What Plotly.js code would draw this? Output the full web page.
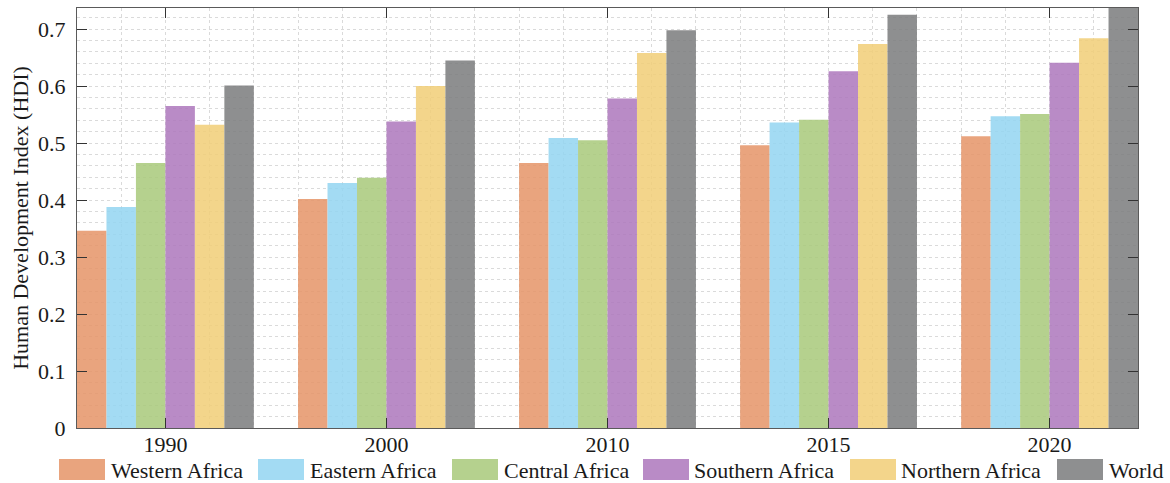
<!DOCTYPE html>
<html>
<head>
<meta charset="utf-8">
<script src="https://cdn.plot.ly/plotly-3.0.1.min.js"></script>
<style>
  html, body { margin: 0; padding: 0; background: #fff; }
  #chart { width: 1170px; height: 483px; }
</style>
</head>
<body>
<div id="chart"></div>
<script>
// Human Development Index by African region, compared with the world average
const years = ['1990', '2000', '2010', '2015', '2020'];
const groupPos = [1, 2, 3, 4, 5];
const regions = ['Western Africa', 'Eastern Africa', 'Central Africa',
                 'Southern Africa', 'Northern Africa', 'World'];

const westernAfrica  = [0.346, 0.402, 0.465, 0.496, 0.512];
const easternAfrica  = [0.388, 0.430, 0.509, 0.536, 0.547];
const centralAfrica  = [0.465, 0.439, 0.505, 0.541, 0.551];
const southernAfrica = [0.565, 0.538, 0.578, 0.626, 0.641];
const northernAfrica = [0.532, 0.600, 0.658, 0.674, 0.684];
const world          = [0.601, 0.645, 0.698, 0.725, 0.737];

const series = [westernAfrica, easternAfrica, centralAfrica,
                southernAfrica, northernAfrica, world];

const palette = ['rgb(229,148,103)', 'rgb(147,213,241)', 'rgb(168,201,122)',
                 'rgb(173,119,188)', 'rgb(241,206,119)', 'rgb(122,123,124)'];
const barOpacity = 0.85;

const FONT = 'Liberation Serif, Times New Roman, serif';
const TEXT_COLOR = '#1a1a1a';
const GRID_COLOR = '#dadada';
const LINE_COLOR = '#5a5a5a';

const traces = regions.map((name, i) => ({
  type: 'bar',
  name: name,
  x: groupPos,
  y: series[i],
  marker: { color: palette[i], opacity: barOpacity, line: { width: 0 } },
  hovertemplate: name + ' %{text}: %{y:.3f}<extra></extra>',
  text: years,
  textposition: 'none'
}));

// Plot area geometry (pixels) used to place the custom legend row
const M = { l: 77, r: 32, t: 8, b: 55 };
const W = 1170 - M.l - M.r;
const H = 483 - M.t - M.b;
const px2x = px => (px - M.l) / W;
const py2y = py => (483 - M.b - py) / H;

// Legend row: wide colour swatch followed by the region name
const legendSlots = [
  { swatch: 59,  label: 109 },
  { swatch: 258, label: 308 },
  { swatch: 452, label: 502 },
  { swatch: 643, label: 692 },
  { swatch: 850, label: 899 },
  { swatch: 1057, label: 1107 }
];
const swatchW = 46, swatchTop = 459, swatchBottom = 480, legendMid = 470;

const shapes = regions.map((name, i) => ({
  type: 'rect', xref: 'paper', yref: 'paper', layer: 'above',
  x0: px2x(legendSlots[i].swatch), x1: px2x(legendSlots[i].swatch + swatchW),
  y0: py2y(swatchBottom), y1: py2y(swatchTop),
  fillcolor: palette[i], opacity: barOpacity, line: { width: 0 }
}));

const annotations = regions.map((name, i) => ({
  xref: 'paper', yref: 'paper',
  x: px2x(legendSlots[i].label), y: py2y(legendMid),
  xanchor: 'left', yanchor: 'middle',
  text: name, showarrow: false,
  font: { family: FONT, size: 22, color: TEXT_COLOR }
}));

const layout = {
  width: 1170, height: 483,
  margin: M,
  paper_bgcolor: '#ffffff',
  plot_bgcolor: '#ffffff',
  font: { family: FONT, size: 22, color: TEXT_COLOR },
  showlegend: false,
  barmode: 'group',
  bargap: 0.2,
  bargroupgap: 0,
  xaxis: {
    range: [0.6, 5.4],
    tickmode: 'array', tickvals: groupPos, ticktext: years,
    ticks: 'inside', ticklen: 10, tickwidth: 1, tickcolor: '#333',
    showline: true, linecolor: LINE_COLOR, linewidth: 1, mirror: 'ticks',
    showgrid: true, gridcolor: GRID_COLOR, griddash: 'dot', gridwidth: 1,
    zeroline: false,
    ticklabelstandoff: -3,
    minor: { tick0: 0, dtick: 0.2, showgrid: true, gridcolor: GRID_COLOR,
             griddash: 'dot', gridwidth: 1, ticks: '' },
    tickfont: { family: FONT, size: 22, color: TEXT_COLOR }
  },
  yaxis: {
    range: [0, 0.737],
    tick0: 0, dtick: 0.1,
    ticks: 'inside', ticklen: 10, tickwidth: 1, tickcolor: '#333',
    showline: true, linecolor: LINE_COLOR, linewidth: 1, mirror: 'ticks',
    showgrid: true, gridcolor: GRID_COLOR, griddash: 'dot', gridwidth: 1,
    zeroline: false,
    ticklabelstandoff: 6,
    minor: { tick0: 0, dtick: 0.02, showgrid: true, gridcolor: GRID_COLOR,
             griddash: 'dot', gridwidth: 1, ticks: '' },
    tickfont: { family: FONT, size: 22, color: TEXT_COLOR },
    title: { text: 'Human Development Index (HDI)', standoff: 3,
             font: { family: FONT, size: 22, color: TEXT_COLOR } }
  },
  shapes: shapes,
  annotations: annotations
};

Plotly.newPlot('chart', traces, layout, { displayModeBar: false, staticPlot: true });
</script>
</body>
</html>
